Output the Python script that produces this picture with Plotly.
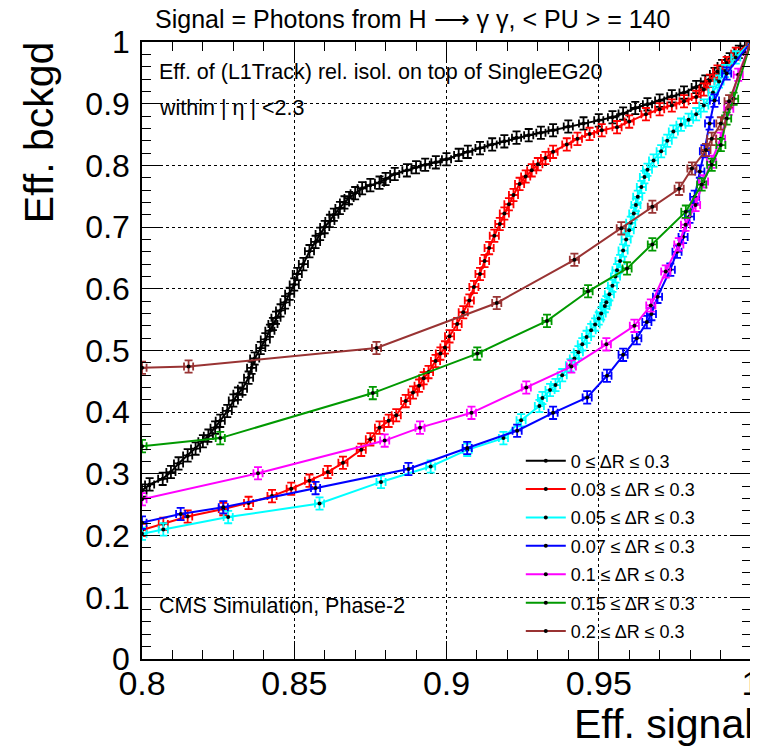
import plotly.graph_objects as go

# ---------------- data ----------------
labels = ["0 \u2264 \u0394R \u2264 0.3", "0.03 \u2264 \u0394R \u2264 0.3", "0.05 \u2264 \u0394R \u2264 0.3",
          "0.07 \u2264 \u0394R \u2264 0.3", "0.1 \u2264 \u0394R \u2264 0.3", "0.15 \u2264 \u0394R \u2264 0.3",
          "0.2 \u2264 \u0394R \u2264 0.3"]
colors = ["#000000", "#ff0000", "#00ffff", "#0000ff", "#ff00ff", "#009900", "#993333"]

sig_dr000 = [0.8, 0.8025, 0.8068, 0.8095, 0.812, 0.815, 0.8176, 0.820, 0.8218, 0.824, 0.8257, 0.828,
             0.830, 0.8315, 0.833, 0.835, 0.836, 0.837, 0.839, 0.8405, 0.842, 0.843, 0.844, 0.8455,
             0.847, 0.8485, 0.850, 0.851, 0.853, 0.855, 0.857, 0.8585, 0.860, 0.8617, 0.863, 0.865,
             0.8665, 0.868, 0.870, 0.8723, 0.875, 0.878, 0.880, 0.883, 0.887, 0.890, 0.893, 0.8965,
             0.900, 0.904, 0.907, 0.911, 0.915, 0.919, 0.923, 0.927, 0.931, 0.935, 0.940, 0.945,
             0.950, 0.9545, 0.958, 0.962, 0.966, 0.970, 0.974, 0.978, 0.982, 0.985, 0.988, 0.9905,
             0.993, 0.996, 0.998, 1.0]
bkg_dr000 = [0.273, 0.283, 0.292, 0.303, 0.317, 0.330, 0.341, 0.353, 0.362, 0.375, 0.386, 0.402,
             0.419, 0.430, 0.438, 0.456, 0.472, 0.487, 0.504, 0.518, 0.532, 0.543, 0.553, 0.565,
             0.578, 0.592, 0.607, 0.624, 0.640, 0.661, 0.676, 0.689, 0.700, 0.710, 0.720, 0.731,
             0.740, 0.747, 0.755, 0.763, 0.768, 0.772, 0.778, 0.786, 0.792, 0.797, 0.801, 0.805,
             0.810, 0.817, 0.822, 0.828, 0.834, 0.839, 0.845, 0.849, 0.853, 0.857, 0.863, 0.868,
             0.873, 0.878, 0.884, 0.893, 0.899, 0.905, 0.912, 0.918, 0.927, 0.936, 0.948, 0.961,
             0.972, 0.984, 0.993, 1.0]

sig_dr003 = [0.800, 0.807, 0.815, 0.8267, 0.835, 0.8427, 0.849, 0.855, 0.861, 0.866, 0.872, 0.875,
             0.878, 0.881, 0.8835, 0.8866, 0.889, 0.891, 0.8925, 0.8941, 0.8964, 0.898, 0.8995,
             0.901, 0.9035, 0.9055, 0.9075, 0.909, 0.911, 0.9125, 0.914, 0.9157, 0.9175, 0.919,
             0.9205, 0.922, 0.924, 0.926, 0.928, 0.930, 0.9325, 0.935, 0.9395, 0.943, 0.947, 0.951,
             0.956, 0.960, 0.9655, 0.970, 0.974, 0.978, 0.982, 0.9845, 0.9865, 0.989, 0.992, 0.995, 1.0]
bkg_dr003 = [0.209, 0.219, 0.231, 0.243, 0.253, 0.264, 0.276, 0.289, 0.303, 0.318, 0.339, 0.356,
             0.375, 0.386, 0.395, 0.418, 0.432, 0.443, 0.455, 0.465, 0.483, 0.495, 0.505,
             0.523, 0.543, 0.562, 0.581, 0.603, 0.624, 0.645, 0.666, 0.686, 0.705, 0.722,
             0.737, 0.752, 0.770, 0.782, 0.792, 0.802, 0.812, 0.822, 0.834, 0.843, 0.851, 0.857,
             0.862, 0.871, 0.883, 0.891, 0.897, 0.904, 0.911, 0.923, 0.937, 0.952, 0.966, 0.981, 1.0]

sig_dr005 = [0.800, 0.807, 0.8283, 0.8583, 0.8785, 0.8948, 0.9068, 0.9187, 0.9245, 0.9305, 0.9315,
             0.934, 0.9358, 0.938, 0.9407, 0.942, 0.9433, 0.9446, 0.946, 0.9475, 0.9488, 0.950,
             0.9508, 0.952, 0.9525, 0.9535, 0.9545, 0.9555, 0.956, 0.957, 0.958, 0.959, 0.960,
             0.9605, 0.9615, 0.9622, 0.9628, 0.964, 0.965, 0.966, 0.968, 0.9705, 0.9725, 0.9745,
             0.977, 0.9795, 0.982, 0.9845, 0.9875, 0.9895, 0.9915, 0.995, 1.0]
bkg_dr005 = [0.203, 0.210, 0.230, 0.252, 0.287, 0.312, 0.339, 0.358, 0.387, 0.410, 0.423,
             0.436, 0.444, 0.460, 0.476, 0.487, 0.497, 0.510, 0.522, 0.533, 0.542, 0.552,
             0.560, 0.572, 0.578, 0.591, 0.605, 0.620, 0.630, 0.645, 0.662, 0.680, 0.695,
             0.707, 0.722, 0.736, 0.749, 0.765, 0.781, 0.793, 0.808, 0.823, 0.840, 0.855,
             0.866, 0.874, 0.883, 0.897, 0.918, 0.936, 0.953, 0.975, 1.0]

sig_dr007 = [0.800, 0.8127, 0.8267, 0.857, 0.8875, 0.9068, 0.9232, 0.935, 0.9462, 0.9527, 0.958,
             0.9625, 0.9658, 0.9673, 0.9693, 0.9735, 0.9757, 0.9777, 0.9798, 0.9815, 0.9832,
             0.9847, 0.9864, 0.988, 0.992, 1.0]
bkg_dr007 = [0.221, 0.235, 0.246, 0.277, 0.308, 0.342, 0.370, 0.399, 0.424, 0.459, 0.493,
             0.520, 0.546, 0.559, 0.587, 0.631, 0.660, 0.684, 0.717, 0.749, 0.790,
             0.823, 0.868, 0.905, 0.949, 1.0]

sig_dr010 = [0.800, 0.8381, 0.8797, 0.8913, 0.9082, 0.9262, 0.941, 0.9525, 0.9617, 0.9671, 0.972,
             0.9763, 0.9785, 0.9818, 0.9844, 0.987, 0.990, 0.9927, 0.9958, 1.0]
bkg_dr010 = [0.259, 0.301, 0.354, 0.375, 0.399, 0.440, 0.474, 0.510, 0.540, 0.573, 0.628,
             0.672, 0.704, 0.736, 0.774, 0.806, 0.843, 0.892, 0.947, 1.0]

sig_dr015 = [0.800, 0.8257, 0.8758, 0.9101, 0.933, 0.9465, 0.9593, 0.9676, 0.9786, 0.9838,
             0.9871, 0.9901, 0.992, 0.9943, 1.0]
bkg_dr015 = [0.345, 0.358, 0.431, 0.495, 0.548, 0.596, 0.633, 0.672, 0.725, 0.769,
             0.801, 0.833, 0.876, 0.908, 1.0]

sig_dr020 = [0.800, 0.8153, 0.877, 0.9165, 0.942, 0.9574, 0.9676, 0.9764, 0.9806, 0.9852,
             0.9871, 0.9901, 0.9928, 1.0]
bkg_dr020 = [0.472, 0.474, 0.504, 0.577, 0.647, 0.698, 0.733, 0.762, 0.795, 0.825,
             0.843, 0.868, 0.904, 1.0]

series_x = [sig_dr000, sig_dr003, sig_dr005, sig_dr007, sig_dr010, sig_dr015, sig_dr020]
series_y = [bkg_dr000, bkg_dr003, bkg_dr005, bkg_dr007, bkg_dr010, bkg_dr015, bkg_dr020]

x_ticks = [0.8, 0.85, 0.9, 0.95, 1.0]
y_ticks = [0, 0.1, 0.2, 0.3, 0.4, 0.5, 0.6, 0.7, 0.8, 0.9, 1.0]

FONT = "Liberation Sans, Arial, Helvetica, sans-serif"

# ---------------- figure ----------------
fig = go.Figure()
for i in range(len(labels)):
    fig.add_trace(go.Scatter(
        x=series_x[i], y=series_y[i], name=labels[i], legendgroup=f"g{i}",
        mode="lines+markers",
        line=dict(color=colors[i], width=2),
        marker=dict(color="black", size=4),
        error_y=dict(type="constant", value=0.01, color=colors[i], thickness=1.8, width=4),
        error_x=dict(type="constant", value=0.0015, color=colors[i], thickness=1.8, width=4),
    ))

axis_common = dict(
    showline=True, linecolor="black", linewidth=1.5, mirror="ticks",
    ticks="inside", ticklen=18, tickwidth=1, tickcolor="black",
    showgrid=True, gridcolor="black", gridwidth=1, griddash="dot",
    zeroline=False, ticklabeloverflow="allow", automargin=False,
    tickfont=dict(family=FONT, color="black"),
)

fig.update_xaxes(**axis_common, range=[0.8, 1.0], tickvals=x_ticks,
                 ticktext=[("%g" % v) for v in x_ticks], tickfont_size=34,
                 ticklabelstandoff=-7,
                 minor=dict(ticks="inside", ticklen=9, dtick=0.01, tickcolor="black", showgrid=False))
fig.update_yaxes(**axis_common, range=[0, 1.0], tickvals=y_ticks,
                 ticktext=[("%g" % v) for v in y_ticks], tickfont_size=32,
                 ticklabelstandoff=4,
                 minor=dict(ticks="inside", ticklen=9, dtick=0.02, tickcolor="black", showgrid=False))

def ann(text, x, y, size, xanchor="left", yanchor="middle", angle=0):
    return dict(text=text, x=x, y=y, xref="paper", yref="paper", showarrow=False,
                xanchor=xanchor, yanchor=yanchor, textangle=angle,
                font=dict(family=FONT, size=size, color="black"))

# the page body has an 8px margin, so the canvas is 8px smaller and margins shifted
fig.update_layout(
    width=750, height=741,
    margin=dict(l=134, r=7, t=34, b=90, autoexpand=False),
    paper_bgcolor="white", plot_bgcolor="white",
    font=dict(family=FONT, color="black"),
    showlegend=True,
    legend=dict(x=0.622, y=0.351, xanchor="left", yanchor="top",
                bgcolor="rgba(0,0,0,0)", borderwidth=0,
                font=dict(family=FONT, size=18, color="black"),
                tracegroupgap=2, itemwidth=40),
    annotations=[
        ann("Signal = Photons from H \u27f6 \u03b3 \u03b3, < PU > = 140", 0.018, 1.0365, 25),
        ann("Eff. of (L1Track) rel. isol. on top of SingleEG20", 0.0246, 0.9506, 21.5),
        ann("within | \u03b7 | <2.3", 0.0246, 0.8938, 21.5),
        ann("CMS Simulation, Phase-2", 0.0246, 0.0851, 21.5),
        ann("Eff. signal", 1.006, -0.106, 41, xanchor="right"),
        ann("Eff. bckgd", -0.169, 0.854, 41, xanchor="center", angle=-90),
    ],
)

fig.write_html("out.html")
